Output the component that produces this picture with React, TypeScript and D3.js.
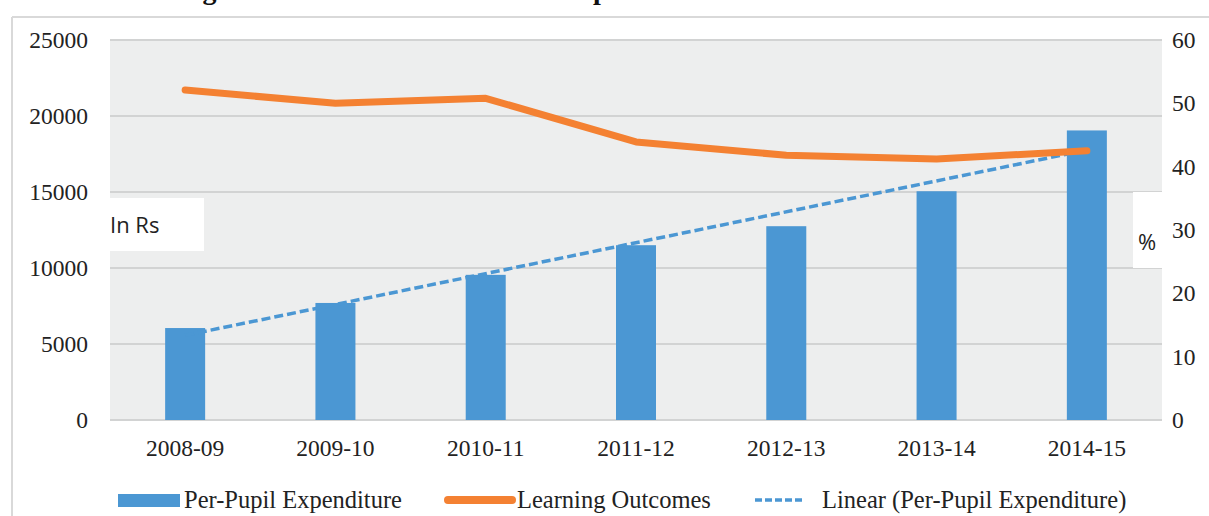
import React from "react";
import * as d3 from "d3";

const categories = ["2008-09", "2009-10", "2010-11", "2011-12", "2012-13", "2013-14", "2014-15"];
const expenditure = [6050, 7700, 9550, 11500, 12750, 15050, 19050];
const outcomes = [52.1, 50.0, 50.8, 43.9, 41.8, 41.2, 42.5];
const leftTicks = [0, 5000, 10000, 15000, 20000, 25000];
const rightTicks = [0, 10, 20, 30, 40, 50, 60];
const legendLabels = ["Per-Pupil Expenditure", "Learning Outcomes", "Linear (Per-Pupil Expenditure)"];
const titleText = "Learning Outcomes and Government Expenditure";

const W = 1209, H = 516;
const M = { left: 110, right: 1162, top: 40, bottom: 420 };
const BLUE = "#4b97d3";
const ORANGE = "#f48132";
const SERIF = "'Liberation Serif', 'Times New Roman', serif";
const SANS = "'Open Sans', 'Liberation Sans', sans-serif";

export default function App() {
  const x = d3.scaleBand<string>().domain(categories).range([M.left, M.right]).paddingInner(0).paddingOuter(0);
  const yL = d3.scaleLinear().domain([0, 25000]).range([M.bottom, M.top]);
  const yR = d3.scaleLinear().domain([0, 60]).range([M.bottom, M.top]);
  const barW = 40;
  const cx = (c: string) => (x(c) as number) + x.bandwidth() / 2;

  // linear trendline (least squares) of expenditure
  const n = expenditure.length;
  const xs = d3.range(n);
  const mx = d3.mean(xs) as number;
  const my = d3.mean(expenditure) as number;
  const slope = d3.sum(xs, (i) => (i - mx) * (expenditure[i] - my)) / d3.sum(xs, (i) => (i - mx) ** 2);
  const intercept = my - slope * mx;
  const trend = [0, n - 1].map((i) => [cx(categories[i]), yL(intercept + slope * i)] as [number, number]);

  const line = d3.line<number>().x((_, i) => cx(categories[i])).y((d) => yR(d));

  return (
    <svg width={W} height={H} style={{ position: "absolute", left: 0, top: 0, background: "#fff" }}>
      <text x={106} y={-1} fontFamily={SERIF} fontWeight="bold" fontSize={28} fill="#111">{titleText}</text>
      {/* outer frame */}
      <line x1={12} x2={W} y1={17} y2={17} stroke="#d9d9d9" strokeWidth={2} />
      <line x1={12} x2={12} y1={17} y2={H} stroke="#d9d9d9" strokeWidth={2} />
      {/* plot area */}
      <rect x={M.left} y={M.top} width={M.right - M.left} height={M.bottom - M.top} fill="#edeeee" />
      {leftTicks.map((t) => (
        <line key={t} x1={M.left} x2={M.right} y1={yL(t)} y2={yL(t)} stroke="#d2d3d3" strokeWidth={2} />
      ))}
      {/* bars */}
      {categories.map((c, i) => (
        <rect key={c} x={cx(c) - barW / 2} y={yL(expenditure[i])} width={barW} height={yL(0) - yL(expenditure[i])} fill={BLUE} />
      ))}
      {/* trendline */}
      <line x1={trend[0][0]} y1={trend[0][1]} x2={trend[1][0]} y2={trend[1][1]} stroke={BLUE} strokeWidth={3.5} strokeDasharray="9,4" />
      {/* outcomes */}
      <path d={line(outcomes) || ""} fill="none" stroke={ORANGE} strokeWidth={7} strokeLinecap="round" strokeLinejoin="round" />
      {/* left ticks */}
      {leftTicks.map((t) => (
        <text key={t} x={88} y={yL(t) + 8} textAnchor="end" fontFamily={SERIF} fontSize={23.5} fill="#222">{t}</text>
      ))}
      {/* right ticks */}
      {rightTicks.map((t) => (
        <text key={t} x={1172} y={yR(t) + 8} textAnchor="start" fontFamily={SERIF} fontSize={23.5} fill="#222">{t}</text>
      ))}
      {/* x labels */}
      {categories.map((c) => (
        <text key={c} x={cx(c)} y={456} textAnchor="middle" fontFamily={SERIF} fontSize={23.5} fill="#222">{c}</text>
      ))}
      {/* unit boxes */}
      <rect x={110} y={198} width={94} height={53} fill="#fff" />
      <text x={110} y={233} fontFamily={SANS} fontSize={22} fill="#222">In Rs</text>
      <rect x={1133} y={192} width={36} height={76} fill="#fff" />
      <text x={1138} y={250} fontFamily={SANS} fontSize={22} fill="#222">%</text>
      {/* legend */}
      <rect x={118} y={494} width={62} height={13} fill={BLUE} />
      <text x={184} y={508} fontFamily={SERIF} fontSize={24.5} fill="#222">{legendLabels[0]}</text>
      <line x1={448} x2={512} y1={500} y2={500} stroke={ORANGE} strokeWidth={8} strokeLinecap="round" />
      <text x={517} y={508} fontFamily={SERIF} fontSize={24.5} fill="#222">{legendLabels[1]}</text>
      <line x1={755} x2={803} y1={500} y2={500} stroke={BLUE} strokeWidth={3.5} strokeDasharray="7,3" />
      <text x={822} y={508} fontFamily={SERIF} fontSize={24.5} fill="#222">{legendLabels[2]}</text>
    </svg>
  );
}
